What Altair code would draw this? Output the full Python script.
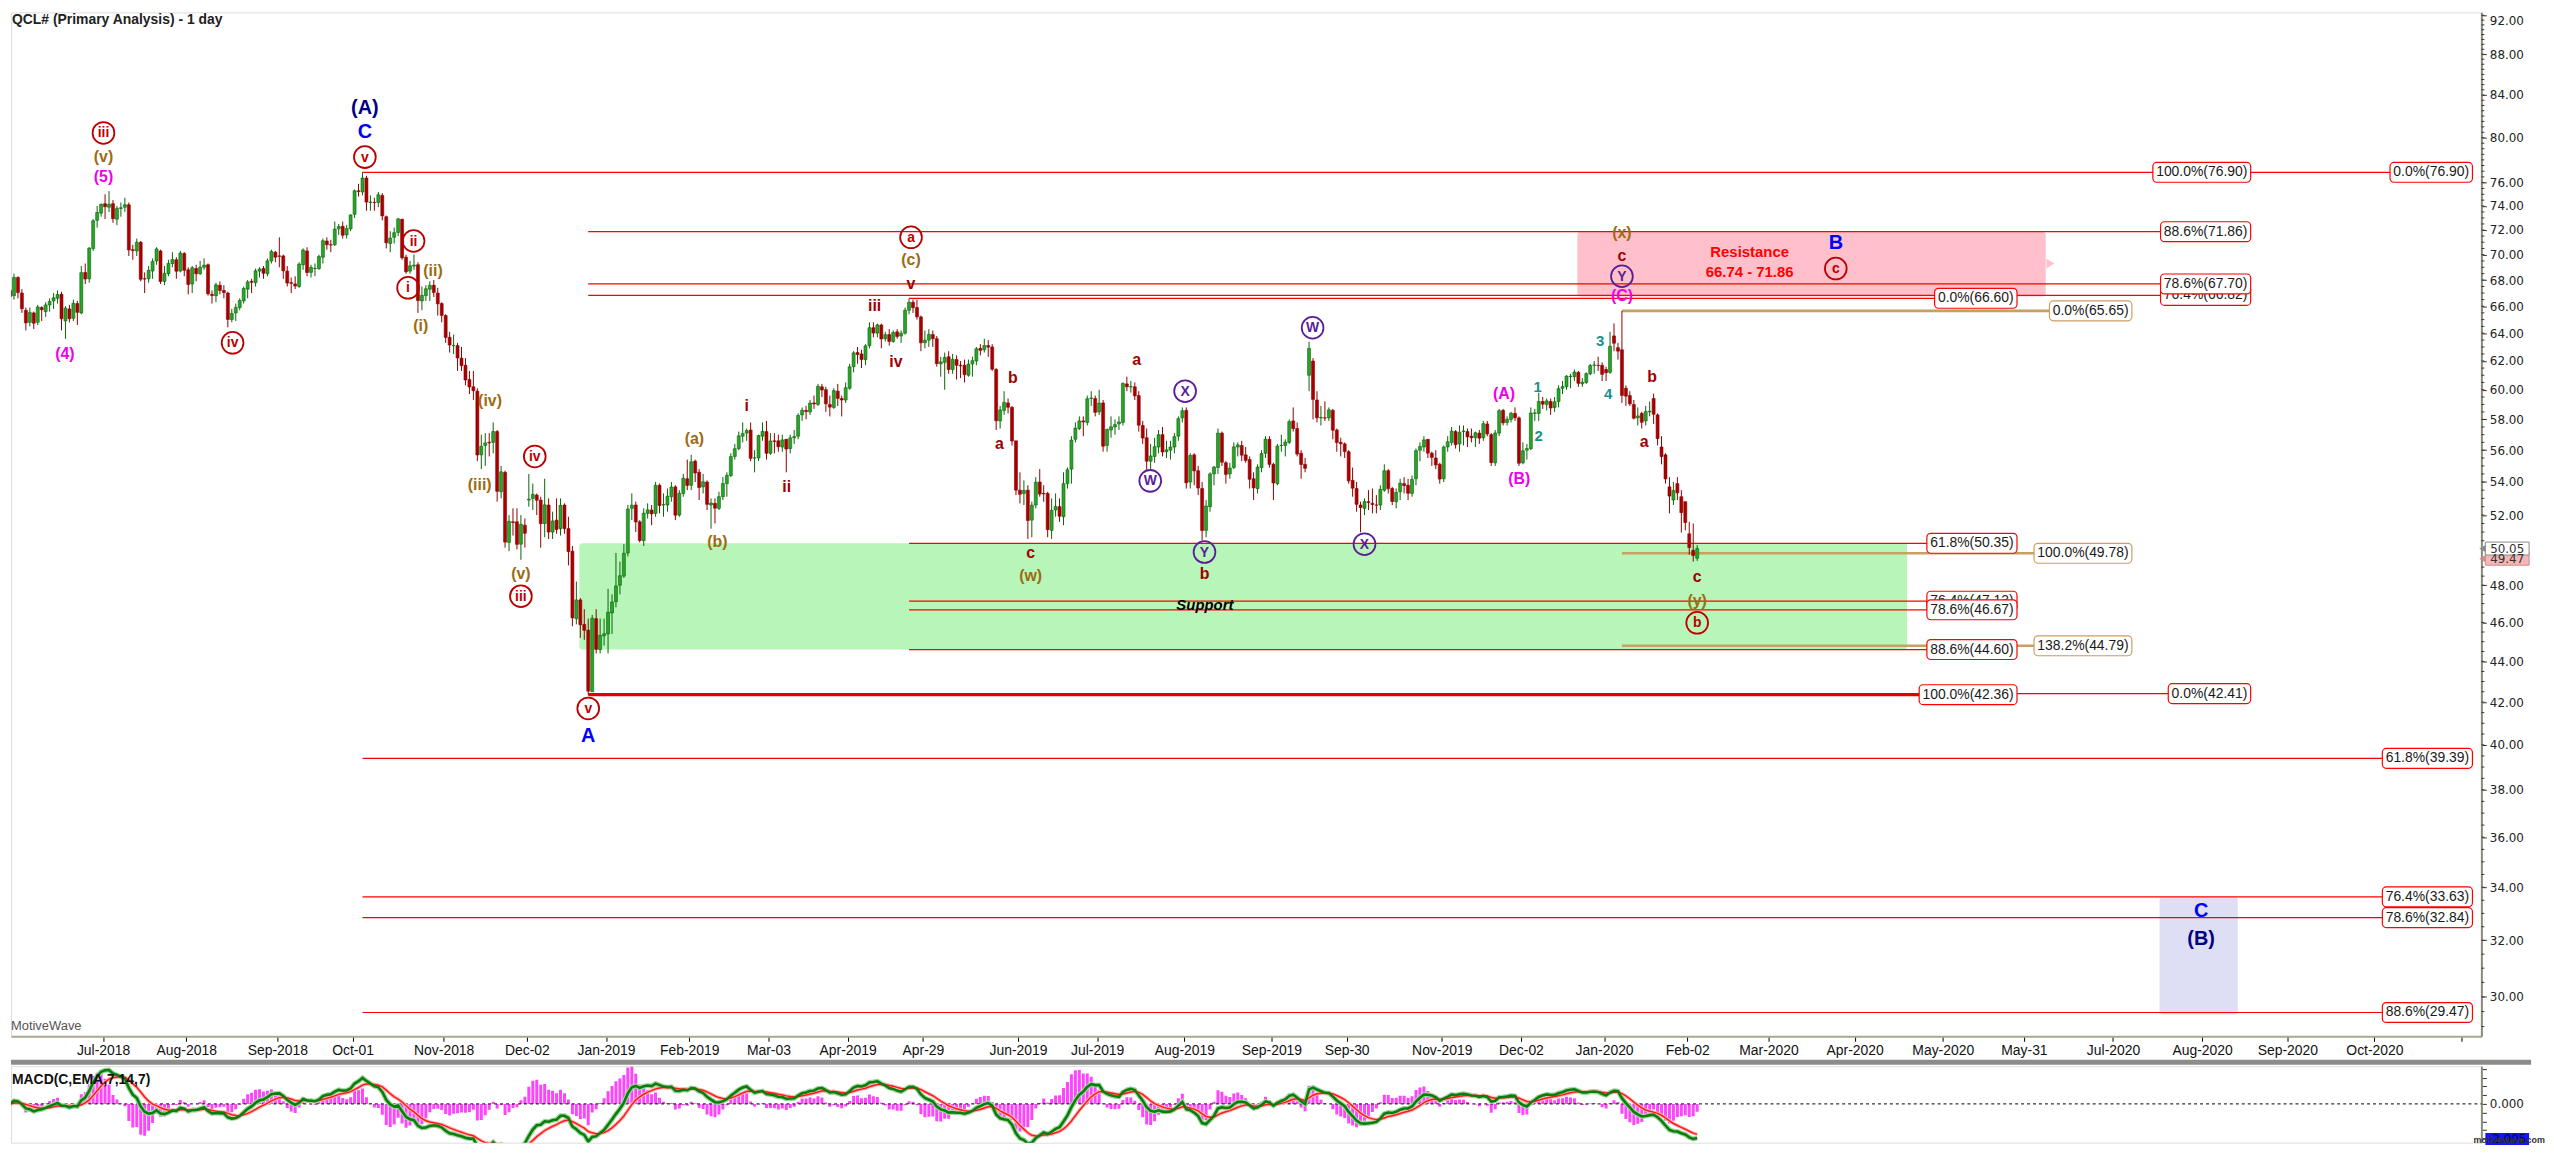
import numpy as np
import pandas as pd
import altair as alt

# ---------------- data (bar 0 = 2 Jul 2018, first bar = 29 May 2018) ----------------
FIRST_BAR = -24

OPEN = [
 67.20,66.80,68.20,67.00,65.70,64.80,65.50,64.80,65.90,65.60,66.10,66.40,66.60,66.90,64.90,65.80,65.10,66.20,65.50,68.60,68.10,70.50,72.80,73.40,
 74.20,73.90,74.20,72.90,73.80,73.90,74.10,70.40,70.30,71.00,68.10,68.10,68.70,69.50,70.30,67.90,68.50,69.30,69.60,68.70,70.10,
 68.80,67.70,68.90,68.50,69.00,69.20,66.90,66.80,67.60,67.20,67.00,65.00,65.50,65.90,66.40,67.30,67.90,67.80,68.70,68.90,68.50,69.50,70.20,
 69.90,69.90,68.70,67.80,67.70,67.50,69.20,70.30,68.60,68.90,68.90,69.80,71.10,70.80,70.80,72.10,72.30,71.60,72.10,
 73.30,75.30,75.20,76.40,74.30,74.30,74.30,74.90,73.10,70.90,71.40,71.80,72.90,69.80,68.70,69.10,69.20,66.40,66.80,67.30,67.60,67.00,66.20,
 65.30,63.70,63.10,63.10,62.20,61.70,60.70,60.20,59.90,55.70,56.30,56.50,56.50,57.20,53.40,54.60,50.40,51.60,51.60,50.30,51.40,
 52.90,53.00,53.20,52.90,51.50,52.60,51.00,51.70,51.20,52.60,51.20,49.90,46.20,47.20,45.90,45.60,42.50,46.20,44.60,45.30,
 45.40,46.50,47.10,48.00,48.50,49.80,52.40,52.60,51.60,50.50,52.10,52.30,52.10,53.80,52.60,52.60,53.10,53.70,52.00,53.30,54.20,
 53.80,55.30,54.60,53.70,54.00,52.60,52.70,52.40,53.10,53.90,54.40,55.60,56.10,56.90,57.10,57.30,55.50,55.50,56.90,
 57.20,55.80,56.60,56.60,56.20,56.70,56.10,56.80,56.90,58.30,58.60,58.50,59.10,59.00,60.20,60.00,59.00,58.80,59.90,59.40,59.30,
 60.10,61.60,62.60,62.50,62.10,63.10,64.40,64.00,64.60,63.60,63.90,63.40,64.10,63.80,64.00,65.70,66.30,65.90,65.20,63.30,63.50,
 63.90,63.60,61.80,61.90,62.30,61.40,62.10,61.70,61.70,61.00,61.80,62.00,62.90,62.80,63.10,63.00,61.40,57.90,58.60,59.10,58.80,56.60,
 53.50,53.30,53.50,51.70,52.60,54.00,53.30,53.30,51.10,52.30,52.50,51.90,53.90,54.80,56.70,57.40,57.90,57.80,59.40,59.40,
 58.50,59.10,56.30,57.30,57.50,57.70,57.80,60.40,60.20,60.20,59.60,57.60,56.80,55.30,55.60,56.20,57.00,55.90,56.00,56.20,56.90,58.10,
 58.60,54.00,55.70,54.70,53.60,51.10,52.50,54.50,54.90,57.10,55.20,54.50,54.90,56.20,56.30,55.70,55.40,54.20,53.60,54.90,55.80,56.70,
 55.10,53.90,56.30,56.30,56.50,57.90,57.40,55.80,55.10,61.00,62.00,59.30,58.10,58.10,58.10,58.60,57.30,56.50,56.40,55.90,
 54.10,53.60,52.60,52.40,52.80,52.70,52.60,52.60,53.50,54.70,53.60,52.80,53.40,53.90,53.80,53.30,54.20,56.00,56.20,56.70,55.80,55.50,55.10,
 54.20,56.20,56.50,57.20,56.40,57.20,57.20,56.90,56.80,57.10,56.80,57.70,57.00,55.20,57.10,58.60,57.80,58.00,58.40,58.10,
 55.20,56.00,56.10,58.40,58.40,59.20,59.00,59.20,58.80,59.20,60.10,60.20,60.90,60.90,61.20,60.40,60.50,61.10,61.70,61.70,61.70,
 61.40,61.20,63.80,62.95,62.80,60.10,59.60,59.00,58.10,58.40,57.90,58.50,59.40,58.30,56.20,55.70,53.70,52.90,53.90,53.10,52.80,50.90,49.95,49.50,
]
HIGH = [
 67.60,68.50,68.30,67.30,65.90,65.90,65.60,66.10,66.00,66.30,66.60,67.00,67.20,67.10,66.00,66.10,66.50,66.40,69.10,69.30,70.60,72.90,74.00,74.20,
 75.00,75.27,74.50,74.00,74.30,74.70,74.30,70.80,71.30,71.10,68.60,69.10,69.70,70.60,70.40,69.10,69.60,70.20,69.80,70.30,70.20,
 69.00,69.10,69.20,69.50,69.70,69.30,67.20,67.80,67.90,67.60,67.10,65.80,66.20,66.60,67.50,68.00,68.10,68.90,69.00,69.10,69.70,70.40,70.30,
 71.40,70.00,69.10,68.20,68.30,69.40,70.50,70.60,69.20,69.30,70.00,71.30,71.40,71.20,72.70,72.50,72.70,72.40,73.30,
 75.40,75.90,76.90,76.60,74.90,74.70,75.20,75.10,73.20,71.90,72.20,73.00,72.90,70.00,69.50,70.00,69.40,67.50,67.60,67.90,68.00,67.40,66.30,
 65.40,64.10,63.90,63.30,63.00,62.20,61.30,61.30,60.10,57.00,57.10,57.10,57.80,57.30,55.00,54.70,52.00,52.40,52.40,52.00,51.80,
 54.50,53.90,53.30,53.10,54.20,53.00,52.20,53.00,53.00,52.70,51.90,50.20,48.20,47.30,46.70,46.20,46.40,46.70,46.20,46.20,
 47.80,47.50,49.80,49.30,50.30,52.60,53.30,52.80,51.70,52.40,52.70,52.60,54.00,53.90,53.30,53.60,54.00,53.80,53.50,54.50,55.40,
 55.70,55.40,54.80,54.50,54.10,53.00,53.00,53.40,54.30,54.60,55.80,56.40,57.20,57.80,57.40,57.80,56.00,57.00,57.80,
 57.90,57.10,57.10,57.00,57.00,56.70,57.00,57.30,58.40,58.80,58.90,59.30,59.60,60.40,60.40,60.20,59.60,60.10,60.40,59.60,60.50,
 61.80,62.70,63.00,62.80,63.20,64.80,64.80,64.70,64.70,64.10,64.30,64.20,64.30,64.20,65.90,66.60,66.50,66.50,65.30,64.20,64.30,
 64.20,63.80,62.30,62.60,62.70,62.50,62.40,62.00,62.10,62.10,62.30,63.00,63.20,63.60,63.50,63.20,61.50,58.90,59.90,59.40,58.90,56.60,
 54.60,54.10,53.80,52.80,54.30,54.80,53.80,53.40,53.00,53.30,53.00,54.60,54.90,56.90,57.80,58.20,58.20,59.60,59.90,59.60,
 60.00,59.30,57.40,58.20,58.00,58.20,60.50,60.90,60.60,60.50,59.90,57.90,57.40,56.40,56.80,57.30,57.50,56.60,56.60,57.10,58.20,58.80,
 58.80,55.80,55.80,55.00,54.00,52.90,54.60,55.00,57.40,57.20,55.30,55.20,56.50,56.50,56.60,56.20,55.60,54.60,55.10,56.00,56.90,56.90,
 55.20,56.40,57.00,56.70,58.00,58.80,57.80,56.00,55.50,63.38,62.20,59.90,58.90,59.20,58.80,58.70,57.40,56.80,56.50,56.00,
 54.90,54.00,52.80,53.00,53.50,53.60,53.20,53.80,55.10,54.80,53.70,53.60,54.20,54.30,54.20,54.40,56.10,56.50,56.90,56.70,55.90,56.00,55.20,
 56.30,56.90,57.50,57.30,57.60,57.60,57.40,57.40,57.20,57.30,57.90,57.90,57.10,57.30,58.70,58.70,58.20,58.50,58.80,58.20,
 56.50,56.40,58.80,58.70,59.80,59.50,59.40,59.40,59.50,60.30,60.60,61.00,61.10,61.40,61.30,60.80,61.20,61.80,62.00,62.30,61.90,
 61.60,64.10,64.72,63.30,65.65,60.30,59.90,59.30,58.80,58.50,58.90,59.20,59.73,58.40,56.90,55.80,54.30,54.00,54.30,53.50,52.80,51.60,51.50,50.25,
]
LOW = [
 65.80,66.50,66.60,65.50,64.20,64.50,64.30,64.60,64.90,65.20,65.60,65.80,66.20,64.20,63.59,64.80,64.90,64.60,65.40,67.70,67.80,70.30,72.20,73.10,
 72.90,73.50,72.60,72.40,73.10,73.50,69.90,69.60,69.90,67.90,67.00,67.80,68.10,69.20,67.70,67.60,68.30,69.00,68.10,68.60,68.30,
 66.90,67.00,67.90,68.40,68.80,66.80,66.20,66.30,66.90,66.60,64.43,64.80,64.90,65.70,66.20,66.60,67.00,67.50,68.20,68.10,68.30,69.30,69.40,
 69.00,68.10,67.50,67.00,67.30,67.40,68.80,68.30,68.20,68.30,68.80,69.30,70.40,70.20,70.70,71.60,71.30,71.30,71.90,
 73.00,74.80,74.90,73.60,73.60,73.60,73.90,72.80,70.50,70.20,70.90,71.50,69.60,68.50,68.50,68.80,65.50,65.70,66.40,66.40,66.70,65.30,64.80,
 63.30,62.60,62.50,61.30,61.30,60.30,59.70,59.30,55.30,54.80,55.00,55.60,55.80,52.80,53.00,50.10,49.90,50.80,50.00,49.41,50.10,
 52.50,52.30,52.00,50.10,50.70,50.60,50.60,50.90,50.80,50.90,49.10,45.80,45.90,45.20,45.10,42.36,42.50,44.40,44.40,44.80,
 44.40,45.40,46.80,47.50,48.40,49.60,51.70,51.00,50.40,50.20,51.80,51.40,51.90,52.10,51.90,52.20,52.80,51.70,51.90,53.10,53.50,
 53.50,54.00,52.90,53.30,52.30,51.20,51.50,52.30,52.90,53.10,54.30,55.40,56.00,56.50,56.60,55.30,54.60,55.30,56.60,
 55.40,55.70,55.80,55.90,55.90,54.60,55.80,56.40,56.70,57.90,58.00,58.30,58.70,58.90,59.50,58.50,58.20,58.70,58.90,58.20,59.10,
 60.00,61.20,61.80,61.50,61.70,62.90,63.70,63.70,62.90,63.40,63.10,63.30,63.60,63.30,63.90,65.40,65.50,65.00,62.70,62.90,63.00,
 63.00,61.60,60.90,60.00,61.10,61.10,60.70,60.80,60.50,60.90,60.90,61.70,62.40,62.60,62.30,61.30,57.30,57.40,58.30,58.40,56.30,53.20,
 52.70,52.60,50.60,50.70,52.40,53.10,52.80,50.70,50.60,51.90,51.60,51.40,53.60,53.90,56.50,57.30,56.90,57.60,58.90,58.20,
 58.30,55.90,55.90,56.80,57.00,57.30,57.60,59.90,59.80,59.30,57.20,56.40,54.70,54.70,55.20,55.80,55.60,55.50,55.40,55.80,56.60,57.80,
 53.60,53.60,53.80,53.20,50.52,50.70,52.20,53.80,54.50,55.00,53.90,54.20,54.80,55.60,55.30,55.20,53.60,52.90,53.30,54.60,55.50,54.90,
 52.90,53.80,55.90,55.60,56.40,57.20,55.60,54.20,54.60,59.90,58.00,57.80,57.60,57.90,57.90,56.70,55.90,55.60,55.50,53.90,
 53.10,52.20,50.99,52.00,52.30,52.10,52.10,52.30,53.40,53.30,52.60,52.40,52.90,53.30,52.90,53.10,53.80,55.30,55.90,55.50,55.00,54.80,53.90,
 54.00,55.90,56.30,56.10,55.90,56.30,56.20,56.50,56.20,56.40,56.60,56.90,55.00,55.00,56.90,57.60,57.60,57.80,57.90,55.00,
 55.10,55.40,56.00,57.90,57.90,58.70,58.60,58.30,58.50,58.80,59.70,60.00,60.10,60.60,60.20,60.20,60.40,61.00,61.10,61.30,60.60,
 60.60,61.10,62.70,62.10,59.10,58.90,58.90,58.00,57.60,57.40,57.60,58.20,57.70,56.30,55.10,53.90,52.10,52.60,52.90,50.97,51.10,49.70,49.31,49.35,
]
CLOSE = [
 66.73,68.21,67.04,65.81,64.75,65.52,64.73,65.95,65.74,66.10,66.36,66.64,66.89,65.06,65.85,65.07,66.22,65.54,68.58,68.08,70.53,72.76,73.45,74.15,
 73.94,74.14,72.94,73.80,73.85,74.11,70.38,70.33,71.01,68.06,68.08,68.76,69.46,70.46,67.89,68.52,69.30,69.61,68.69,70.13,68.76,
 67.66,68.96,68.49,69.01,69.17,66.94,66.81,67.63,67.20,67.04,65.01,65.46,65.91,66.43,67.35,67.86,67.83,68.72,68.87,68.53,69.51,70.25,69.80,
 69.87,68.72,67.77,67.75,67.54,69.25,70.37,68.59,68.99,68.91,69.85,71.12,70.80,70.78,72.08,72.28,71.57,72.12,73.25,
 75.30,75.23,76.41,74.33,74.34,74.29,74.96,73.17,70.97,71.34,71.78,72.92,69.75,68.65,69.12,69.17,66.43,66.82,67.33,67.59,67.04,66.18,65.31,
 63.69,63.14,63.10,62.21,61.67,60.67,60.19,59.93,55.69,56.25,56.46,56.46,57.20,53.43,54.63,50.42,51.63,51.56,50.29,51.45,50.93,
 52.95,53.25,52.89,51.49,52.61,51.00,51.65,51.15,52.58,51.20,49.88,46.24,47.20,45.88,45.59,42.53,46.22,44.61,45.33,45.41,
 46.54,47.09,47.96,48.52,49.78,52.36,52.59,51.59,50.51,52.11,52.31,52.07,53.80,52.57,52.62,53.13,53.69,51.99,53.31,54.23,53.79,
 55.26,54.56,53.66,54.01,52.64,52.72,52.41,53.10,53.90,54.41,55.59,56.09,56.92,57.07,57.26,55.48,55.50,56.94,57.22,
 55.80,56.59,56.56,56.22,56.66,56.07,56.79,56.87,58.26,58.61,58.52,59.09,59.03,60.23,59.98,59.04,58.82,59.94,59.41,59.30,60.14,
 61.59,62.58,62.46,62.10,63.08,64.40,64.01,64.61,63.58,63.89,63.40,64.05,63.76,64.00,65.70,66.30,65.89,65.21,63.30,63.50,63.91,
 63.60,61.81,61.94,62.25,61.40,62.12,61.70,61.66,61.04,61.78,62.02,62.87,62.76,63.10,62.99,61.42,57.91,58.63,59.14,58.81,56.59,53.50,
 53.25,53.48,51.68,52.59,53.99,53.26,53.27,51.14,52.28,52.51,51.93,53.90,54.76,56.65,57.43,57.90,57.83,59.38,59.43,58.47,
 59.09,56.25,57.34,57.51,57.66,57.83,60.43,60.20,60.21,59.58,57.62,56.78,55.30,55.63,56.22,57.00,55.88,56.02,56.20,56.87,58.05,58.58,
 53.95,55.66,54.69,53.63,51.09,52.54,54.50,54.93,57.10,55.23,54.47,54.87,56.21,56.34,55.68,55.35,54.17,53.64,54.93,55.78,56.71,55.10,
 53.94,56.26,56.30,56.52,57.85,57.40,55.75,55.09,54.85,62.90,59.34,58.11,58.13,58.09,58.64,57.29,56.49,56.41,55.91,54.07,
 53.62,52.64,52.45,52.81,52.75,52.63,52.59,53.55,54.70,53.59,52.81,53.36,53.93,53.78,53.31,54.16,55.97,56.23,56.66,55.81,55.54,55.06,54.18,
 56.20,56.54,57.23,56.35,57.15,57.24,56.86,56.80,57.12,56.77,57.72,57.05,55.21,57.11,58.58,57.77,58.01,58.41,58.11,55.17,
 55.96,56.10,58.43,58.43,59.20,59.02,59.24,58.76,59.18,60.07,60.21,60.94,60.93,61.22,60.44,60.52,61.11,61.68,61.72,61.68,61.06,
 61.18,63.05,63.27,62.70,59.61,59.56,59.04,58.08,58.23,57.81,58.52,58.54,58.34,56.74,55.59,54.19,53.14,53.48,53.33,52.14,51.56,50.11,49.65,50.05,
]

TICK_BARS = [-0.5, 20.5, 43.5, 62.5, 85.5, 106.5, 126.5, 147.5, 167.5, 187.5, 206.5, 230.5,
             250.5, 272.5, 294.5, 313.5, 337.5, 357.5, 378.5, 399.5, 420, 441.75, 464, 484.5,
             507, 529.5, 551, 573, 595]
TICK_LABELS = ["Jul-2018", "Aug-2018", "Sep-2018", "Oct-01", "Nov-2018", "Dec-02", "Jan-2019",
               "Feb-2019", "Mar-03", "Apr-2019", "Apr-29", "Jun-2019", "Jul-2019", "Aug-2019",
               "Sep-2019", "Sep-30", "Nov-2019", "Dec-02", "Jan-2020", "Feb-02", "Mar-2020",
               "Apr-2020", "May-2020", "May-31", "Jul-2020", "Aug-2020", "Sep-2020", "Oct-2020", ""]
PRICE_TICKS = [30, 32, 34, 36, 38, 40, 42, 44, 46, 48, 50, 52, 54, 56, 58, 60, 62, 64, 66, 68,
               70, 72, 74, 76, 80, 84, 88, 92]

RED, TAN = "#ff0000", "#c8a060"
# fib levels: price, start bar, end bar, colour, width
FIB_LEVELS = [
    (76.90, 65, 597.75, RED, 1.2), (71.86, 122, 541.75, RED, 1.2), (67.70, 122, 541.75, RED, 1.2),
    (66.82, 122, 541.75, RED, 1.2), (66.60, 203, 482.75, RED, 1.2), (65.65, 383, 511.75, TAN, 2.6),
    (50.35, 203, 482.75, RED, 1.2), (49.78, 383, 511.75, TAN, 2.6), (47.13, 203, 482.75, RED, 1.2),
    (46.67, 203, 482.75, RED, 1.2), (44.79, 383, 511.75, TAN, 2.6), (44.60, 203, 482.75, RED, 1.2),
    (42.41, 122, 541.75, RED, 1.2), (42.36, 122, 482.75, "#e00000", 3.0), (39.39, 65, 597.75, RED, 1.2),
    (33.63, 65, 597.75, RED, 1.2), (32.84, 65, 597.75, RED, 1.2), (29.47, 65, 597.75, RED, 1.2),
]
# fib tags: text, price, right edge (bar units), colour, layer (0 = behind)
FIB_TAGS = [
    ("100.0%(76.90)", 76.90, 541.75, RED, 1), ("0.0%(76.90)", 76.90, 597.75, RED, 1),
    ("88.6%(71.86)", 71.86, 541.75, RED, 1), ("76.4%(66.82)", 66.82, 541.75, RED, 0),
    ("78.6%(67.70)", 67.70, 541.75, RED, 1), ("0.0%(66.60)", 66.60, 482.75, RED, 1),
    ("0.0%(65.65)", 65.65, 511.75, TAN, 1), ("61.8%(50.35)", 50.35, 482.75, RED, 1),
    ("100.0%(49.78)", 49.78, 511.75, TAN, 1), ("76.4%(47.13)", 47.13, 482.75, RED, 0),
    ("78.6%(46.67)", 46.67, 482.75, RED, 1), ("138.2%(44.79)", 44.79, 511.75, TAN, 1),
    ("88.6%(44.60)", 44.60, 482.75, RED, 1), ("100.0%(42.36)", 42.36, 482.75, RED, 1),
    ("0.0%(42.41)", 42.41, 541.75, RED, 1), ("61.8%(39.39)", 39.39, 597.75, RED, 1),
    ("76.4%(33.63)", 33.63, 597.75, RED, 1), ("78.6%(32.84)", 32.84, 597.75, RED, 1),
    ("88.6%(29.47)", 29.47, 597.75, RED, 1),
]
# zones: x1, x2 (bars), low, high price, fill
ZONES = [(119.75, 455.0, 44.60, 50.35, "#b8f5b8"),
         (371.75, 490.0, 66.74, 71.86, "#ffc0cb"),
         (518.75, 538.5, 29.40, 33.63, "#dedff4")]

DRED, CRED, BROWN, MAG, NAVY, BLUE, PURP, TEAL = ("#a00000", "#bb0000", "#9c6b10", "#ee00ee",
                                                  "#000080", "#0000ff", "#5a1e9a", "#1a8f8f")
WAVE_TEXT = [
    ("(A)", 65.6, 82.8, NAVY, 20), ("C", 65.6, 80.56, BLUE, 20), ("(v)", -0.4, 78.3, BROWN, 16),
    ("(5)", -0.4, 76.5, MAG, 16), ("(4)", -10.15, 62.5, MAG, 16), ("(ii)", 82.8, 68.7, BROWN, 16),
    ("(i)", 79.7, 64.5, BROWN, 16), ("(iv)", 97.2, 59.2, BROWN, 16), ("(iii)", 94.6, 53.8, BROWN, 16),
    ("(v)", 105.0, 48.6, BROWN, 16), ("A", 122.0, 40.4, BLUE, 20), ("(a)", 148.8, 56.7, BROWN, 16),
    ("(b)", 154.6, 50.4, BROWN, 16), ("i", 162.0, 58.9, DRED, 16), ("ii", 172.1, 53.7, DRED, 16),
    ("iii", 194.3, 66.0, DRED, 16), ("iv", 199.7, 61.95, DRED, 16), ("v", 203.5, 67.7, DRED, 16),
    ("(c)", 203.5, 69.6, BROWN, 16), ("b", 229.2, 60.8, DRED, 16), ("a", 225.8, 56.4, DRED, 16),
    ("c", 233.7, 49.8, DRED, 16), ("(w)", 233.7, 48.5, BROWN, 16), ("a", 260.5, 62.05, DRED, 16),
    ("b", 277.6, 48.6, DRED, 16), ("(A)", 353.2, 59.7, MAG, 16), ("(B)", 357.1, 54.2, MAG, 16),
    ("1", 361.7, 60.2, TEAL, 15), ("2", 362.0, 56.9, TEAL, 15), ("3", 377.5, 63.45, TEAL, 15),
    ("4", 379.5, 59.7, TEAL, 15), ("b", 390.6, 60.9, DRED, 16), ("a", 388.6, 56.5, DRED, 16),
    ("(x)", 383.0, 71.75, BROWN, 16), ("c", 383.0, 69.9, DRED, 16), ("(C)", 383.0, 66.8, MAG, 16),
    ("c", 402.0, 48.46, DRED, 16), ("(y)", 402.0, 47.15, BROWN, 16), ("B", 437.0, 70.9, BLUE, 20),
    ("C", 529.25, 33.08, BLUE, 20), ("(B)", 529.25, 32.05, NAVY, 20),
]
CIRCLED = [
    ("iii", -0.4, 80.44, CRED), ("v", 65.6, 78.25, CRED), ("iv", 32.2, 63.3, CRED),
    ("ii", 77.9, 71.1, CRED), ("i", 76.5, 67.4, CRED), ("iv", 108.5, 55.6, CRED),
    ("iii", 105.0, 47.4, CRED), ("v", 122.0, 41.7, CRED), ("a", 203.5, 71.4, CRED),
    ("W", 263.9, 54.07, PURP), ("X", 272.7, 59.9, PURP), ("Y", 277.6, 49.85, PURP),
    ("W", 304.9, 64.4, PURP), ("X", 318.0, 50.3, PURP), ("Y", 383.0, 68.3, PURP),
    ("b", 402.0, 45.98, CRED), ("c", 437.0, 68.9, CRED),
]
NOTES = [("Resistance", 415.25, 70.2, RED, 15, "normal"),
         ("66.74 - 71.86", 415.25, 68.6, RED, 15, "normal"),
         ("Support", 277.7, 46.9, "#000000", 15, "italic")]
PRICE_TAGS = [("49.47", 49.47, "#f4b6b6", "#d08a8a"), ("50.05", 50.05, "#ffffff", "#8a8a8a")]
MACD_TAG = -2.005

# ---------------- layout ----------------
W, H_MAIN, H_MACD = 2485, 1030, 77
X_MIN, X_MAX = -22.5, 598.75
Y_MIN, Y_MAX = 28.68, 92.31
K = H_MAIN / np.log(Y_MAX / Y_MIN)      # px per log unit
FONT = "Liberation Sans, Arial, sans-serif"
AXFONT = "DejaVu Sans, Verdana, sans-serif"

n = len(CLOSE)
assert len(OPEN) == len(HIGH) == len(LOW) == n
bars = pd.DataFrame({"i": np.arange(FIRST_BAR, FIRST_BAR + n), "o": OPEN, "h": HIGH,
                     "l": LOW, "c": CLOSE})
bars["dir"] = np.where(bars["c"] >= bars["o"], "up", "down")

label_expr = " : ".join(f"abs(datum.value - ({v})) < 0.01 ? '{t}'"
                        for v, t in zip(TICK_BARS, TICK_LABELS)) + " : ''"

XS = alt.Scale(domain=[X_MIN, X_MAX], nice=False, zero=False)
YS = alt.Scale(type="log", domain=[Y_MIN, Y_MAX], nice=False)
X_AXIS = alt.Axis(values=TICK_BARS, labelExpr=label_expr, grid=False, tickSize=5,
                  tickColor="#000", domainColor="#a8a898", domainWidth=2, labelFont=FONT,
                  labelFontSize=14, labelColor="#111", labelPadding=2, labelFlush=False,
                  labelOverlap=False, title=None)
Y_AXIS = alt.Axis(orient="right", values=PRICE_TICKS, format=".2f", grid=False, tickSize=5,
                  tickColor="#333", domainColor="#8a8a7a", domainWidth=2, labelFont=AXFONT,
                  labelFontSize=12, labelColor="#222", labelPadding=3, labelOverlap=False,
                  labelFlush=6, title=None)


def X(f):
    return alt.X(f, type="quantitative", scale=XS, axis=X_AXIS, title=None)


def Y(f):
    return alt.Y(f, type="quantitative", scale=YS, axis=Y_AXIS, title=None)


# zones
zones = pd.DataFrame(ZONES, columns=["x1", "x2", "p1", "p2", "fill"])
zone_l = alt.Chart(zones).mark_rect(cornerRadius=3).encode(
    x=X("x1"), x2="x2", y=Y("p1"), y2="p2", fill=alt.Fill("fill:N", scale=None))
notch = alt.Chart(pd.DataFrame({"x": [491.2], "p": [69.3]})).mark_point(
    shape="triangle-right", filled=True, color="#ffc0cb", size=90, opacity=1).encode(
    x=X("x"), y=Y("p"))

# fib lines
lev = pd.DataFrame(FIB_LEVELS, columns=["p", "x1", "x2", "col", "w"])
lines_l = alt.Chart(lev).mark_rule().encode(
    x=X("x1"), x2="x2", y=Y("p"), color=alt.Color("col:N", scale=None),
    strokeWidth=alt.StrokeWidth("w:Q", scale=None))

# candles
dir_col = alt.Scale(domain=["up", "down"], range=["#0a640a", "#8c0000"])
wick = alt.Chart(bars).mark_rule(strokeWidth=1, clip=True).encode(
    x=X("i"), y=Y("l"), y2="h", color=alt.Color("dir:N", scale=dir_col, legend=None))
body = alt.Chart(bars).mark_bar(size=3, clip=True, strokeWidth=0.6).encode(
    x=X("i"), y=Y("o"), y2="c",
    fill=alt.Fill("dir:N", scale=alt.Scale(domain=["up", "down"], range=["#28a428", "#a80000"]),
                  legend=None),
    stroke=alt.Stroke("dir:N", scale=dir_col, legend=None))

# fib tags
CW = {"%": 12.45, ".": 3.89, "(": 4.66, ")": 4.66}
rows = []
for t, p, xr, col, z in FIB_TAGS:
    wpx = sum(CW.get(ch, 7.78) for ch in t) + 7
    xl = xr - wpx / 4.0
    rows.append(dict(t=t, p=p, xl=xl, xr=xr, xc=(xl + xr) / 2, col=col, z=z,
                     pl=p * np.exp(-10.0 / K), ph=p * np.exp(10.0 / K)))
tags = pd.DataFrame(rows)


def tag_layers(df):
    r = alt.Chart(df).mark_rect(cornerRadius=4, fill="white", strokeWidth=1.2).encode(
        x=X("xl"), x2="xr", y=Y("pl"), y2="ph", stroke=alt.Stroke("col:N", scale=None))
    tx = alt.Chart(df).mark_text(font=FONT, fontSize=14, color="#1a1a1a", baseline="middle",
                                 align="center").encode(x=X("xc"), y=Y("p"), text="t:N")
    return [r, tx]


tag_back = tag_layers(tags[tags.z == 0])
tag_front = tag_layers(tags[tags.z == 1])

# wave labels
wt = pd.DataFrame(WAVE_TEXT, columns=["t", "x", "p", "col", "fs"])
wave_l = alt.Chart(wt).mark_text(font=FONT, fontWeight="bold", baseline="middle",
                                 align="center").encode(
    x=X("x"), y=Y("p"), text="t:N", color=alt.Color("col:N", scale=None),
    size=alt.Size("fs:Q", scale=None))
cc = pd.DataFrame(CIRCLED, columns=["t", "x", "p", "col"])
circ_l = alt.Chart(cc).mark_point(shape="circle", filled=False, strokeWidth=1.8, size=480,
                                  opacity=1).encode(
    x=X("x"), y=Y("p"), color=alt.Color("col:N", scale=None))
circ_t = alt.Chart(cc).mark_text(font=FONT, fontWeight="bold", fontSize=14, baseline="middle",
                                 align="center", dy=0.5).encode(
    x=X("x"), y=Y("p"), text="t:N", color=alt.Color("col:N", scale=None))
nt = pd.DataFrame(NOTES, columns=["t", "x", "p", "col", "fs", "style"])
note_n = alt.Chart(nt[nt["style"] == "normal"]).mark_text(
    font=FONT, fontWeight="bold", fontSize=15, baseline="middle", align="center").encode(
    x=X("x"), y=Y("p"), text="t:N", color=alt.Color("col:N", scale=None))
note_i = alt.Chart(nt[nt["style"] == "italic"]).mark_text(
    font=FONT, fontWeight="bold", fontStyle="italic", fontSize=15, baseline="middle",
    align="center").encode(x=X("x"), y=Y("p"), text="t:N", color=alt.Color("col:N", scale=None))

one = pd.DataFrame({"a": [0]})
title_l = alt.Chart(one).mark_text(text="QCL# (Primary Analysis) - 1 day", font=FONT,
                                   fontWeight="bold", fontSize=14, color="#222",
                                   align="left", baseline="middle").encode(
    x=alt.value(1), y=alt.value(8))
mw_l = alt.Chart(one).mark_text(text="MotiveWave", font=FONT, fontSize=13, color="#555",
                                align="left", baseline="middle").encode(
    x=alt.value(0), y=alt.value(H_MAIN - 10))

# minor ticks on price axis
minor = pd.DataFrame({"p": [v / 2 for v in range(58, 185) if v / 2 <= 92.3]})
minor_l = alt.Chart(minor).mark_rule(color="#333", strokeWidth=1).encode(
    x=alt.value(W), x2=alt.value(W + 3), y=Y("p"))

# price tags on axis
pt = pd.DataFrame(PRICE_TAGS, columns=["t", "p", "fill", "stroke"])
pt["pl"] = pt["p"] * np.exp(-6.5 / K)
pt["ph"] = pt["p"] * np.exp(6.5 / K)
pt_r = alt.Chart(pt).mark_rect(strokeWidth=1).encode(
    x=alt.value(W + 4), x2=alt.value(W + 48), y=Y("pl"), y2="ph",
    fill=alt.Fill("fill:N", scale=None), stroke=alt.Stroke("stroke:N", scale=None))
pt_a = alt.Chart(pt).mark_point(shape="triangle-left", filled=True, size=50, opacity=1).encode(
    x=alt.value(W + 1), y=Y("p"), color=alt.Color("stroke:N", scale=None))
pt_t = alt.Chart(pt).mark_text(font=AXFONT, fontSize=12, color="#333", baseline="middle",
                               align="center").encode(x=alt.value(W + 26), y=Y("p"), text="t:N")

main = alt.layer(
    zone_l, notch, lines_l, wick, body, *tag_back, *tag_front, circ_l, circ_t, wave_l,
    note_n, note_i, title_l, mw_l, minor_l, pt_r, pt_a, pt_t
).properties(width=W, height=H_MAIN)

# ---------------- MACD(C,EMA,7,14,7) ----------------
cs = pd.Series(CLOSE, dtype=float)
macd = cs.ewm(span=7, adjust=False).mean() - cs.ewm(span=14, adjust=False).mean()
sig = macd.ewm(span=7, adjust=False).mean()
hist = macd - sig
md = pd.DataFrame({"i": bars["i"], "macd": macd, "sig": sig, "hist": hist})

ZERO_PX = 38
S = 34.0 / float(macd.max())            # peak of the MACD line ~34 px above zero
MS = alt.Scale(domain=[-(H_MACD - ZERO_PX) / S, ZERO_PX / S], nice=False, zero=False)
HK = float(np.abs(hist).quantile(0.95)) * ZERO_PX / 24
HS = alt.Scale(domain=[-HK * (H_MACD - ZERO_PX) / ZERO_PX, HK], nice=False, zero=False)
MX = alt.X("i:Q", scale=XS, axis=None, title=None)
M_AXIS = alt.Axis(orient="right", values=[-2, -1.5, -1, -0.5, 0, 0.5, 1, 1.5, 2],
                  labelExpr="datum.value == 0 ? '0.000' : ''", grid=False, tickSize=5,
                  tickColor="#333", domainColor="#8a8a7a", domainWidth=2, labelFont=AXFONT,
                  labelFontSize=12, labelColor="#222", labelPadding=3, title=None)

hist_l = alt.Chart(md).mark_bar(size=3, color="#ff44ff", clip=True).encode(
    x=MX, y=alt.Y("hist:Q", scale=HS, axis=None, stack=None, title=None))
zero_l = alt.Chart(pd.DataFrame({"z": [0.0]})).mark_rule(
    color="#000", strokeDash=[3, 3], strokeWidth=1).encode(
    x=alt.value(0), x2=alt.value(W), y=alt.Y("z:Q", scale=MS, axis=None))
g_halo = alt.Chart(md).mark_line(color="#9fd49f", strokeWidth=5, clip=True).encode(
    x=MX, y=alt.Y("macd:Q", scale=MS, axis=None))
r_halo = alt.Chart(md).mark_line(color="#ffb3b3", strokeWidth=3.5, clip=True).encode(
    x=MX, y=alt.Y("sig:Q", scale=MS, axis=None))
r_line = alt.Chart(md).mark_line(color="#ff1a1a", strokeWidth=1.5, clip=True).encode(
    x=MX, y=alt.Y("sig:Q", scale=MS, axis=M_AXIS))
g_line = alt.Chart(md).mark_line(color="#0b7d0b", strokeWidth=2.6, clip=True).encode(
    x=MX, y=alt.Y("macd:Q", scale=MS, axis=None))
sep_l = alt.Chart(one).mark_rule(color="#8c8c8c", strokeWidth=5).encode(
    x=alt.value(0), x2=alt.value(W + 50), y=alt.value(-4))
mlab = alt.Chart(one).mark_text(text="MACD(C,EMA,7,14,7)", font=FONT, fontWeight="bold",
                                fontSize=14, color="#111", align="left",
                                baseline="middle").encode(x=alt.value(1), y=alt.value(14))
mt = pd.DataFrame({"p": [MACD_TAG], "pl": [MACD_TAG - 6 / S], "ph": [MACD_TAG + 6 / S],
                   "t": [f"{MACD_TAG:.3f}"]})
mt_r = alt.Chart(mt).mark_rect(color="#1414ff").encode(
    x=alt.value(W + 4), x2=alt.value(W + 48), y=alt.Y("pl:Q", scale=MS, axis=None), y2="ph")
mt_t = alt.Chart(mt).mark_text(font=AXFONT, fontSize=12, color="#000050", baseline="middle",
                               align="center").encode(
    x=alt.value(W + 26), y=alt.Y("p:Q", scale=MS, axis=None), text="t:N")
mwc = alt.Chart(one).mark_text(text="motivewave.com", font=FONT, fontWeight="bold", fontSize=9,
                               color="#333", align="center", baseline="middle").encode(
    x=alt.value(W + 28), y=alt.value(H_MACD - 3))

macd_panel = alt.layer(
    hist_l, zero_l, g_halo, r_halo, r_line, g_line, sep_l, mlab, mt_r, mt_t, mwc
).resolve_scale(y="independent").properties(width=W, height=H_MACD)

chart = alt.vconcat(main, macd_panel, spacing=1).properties(padding=0).configure_view(
    stroke="#000000", strokeWidth=1).configure(background="white")

chart.save("out.html", embed_options={"renderer": "svg", "actions": False})
